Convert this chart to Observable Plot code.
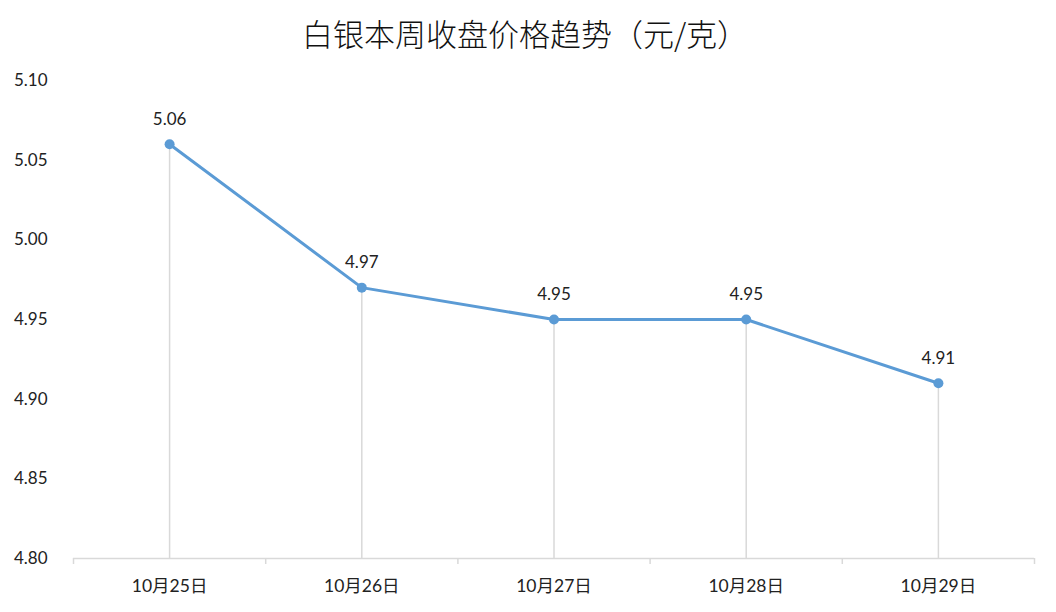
<!DOCTYPE html>
<html>
<head>
<meta charset="utf-8">
<script src="https://cdn.jsdelivr.net/npm/d3@7"></script>
<script src="https://cdn.jsdelivr.net/npm/@observablehq/plot@0.6"></script>
<style>
  html, body { margin: 0; padding: 0; background: #fff; }
  #title { height: 64px; line-height: 66px; text-align: center; font-family: "Noto Sans CJK SC", sans-serif; font-size: 31px; font-weight: 300; color: #111; width: 1050px; }
  #chart svg { display: block; }
</style>
</head>
<body>
<div id="title">白银本周收盘价格趋势（元/克）</div>
<div id="chart"></div>
<script>
const categories = ["10月25日", "10月26日", "10月27日", "10月28日", "10月29日"];
const prices = [5.06, 4.97, 4.95, 4.95, 4.91];
const yTicks = [4.80, 4.85, 4.90, 4.95, 5.00, 5.05, 5.10];

const data = categories.map((c, i) => ({cat: c, idx: i + 0.5, price: prices[i]}));
const boundaries = d3.range(categories.length + 1);
const centers = data.map(d => d.idx);

const color = "#5b9bd5";
const grey = "#d9d9d9";

const chart = Plot.plot({
  width: 1056,
  height: 548,
  marginTop: 16,
  marginBottom: 54,
  marginLeft: 73,
  marginRight: 22,
  style: {fontFamily: "Lato, 'Noto Sans CJK SC', sans-serif", fontSize: "17px", color: "#222", background: "#fff"},
  x: {type: "linear", domain: [0, categories.length], label: null},
  y: {domain: [4.80, 5.10], label: null},
  marks: [
    Plot.ruleX(data, {x: "idx", y1: 4.80, y2: "price", stroke: grey, strokeWidth: 1.5}),
    Plot.ruleY([4.80], {stroke: grey, strokeWidth: 1.5}),
    Plot.axisX({ticks: boundaries, tickSize: 6, tickFormat: () => "", stroke: grey, strokeWidth: 1.5, label: null}),
    Plot.axisX({ticks: centers, tickSize: 0, tickPadding: 21, tickFormat: v => categories[Math.floor(v)], fontSize: 17.5, label: null}),
    Plot.axisY({ticks: yTicks, tickSize: 0, tickPadding: 26, tickFormat: d3.format(".2f"), fontSize: 17, label: null}),
    Plot.line(data, {x: "idx", y: "price", stroke: color, strokeWidth: 3}),
    Plot.dot(data, {x: "idx", y: "price", r: 5, fill: color, stroke: "none"}),
    Plot.text(data, {x: "idx", y: "price", text: d => d3.format(".2f")(d.price), dy: -25, fontSize: 17, fill: "#222"})
  ]
});
document.getElementById("chart").appendChild(chart);
</script>
</body>
</html>
